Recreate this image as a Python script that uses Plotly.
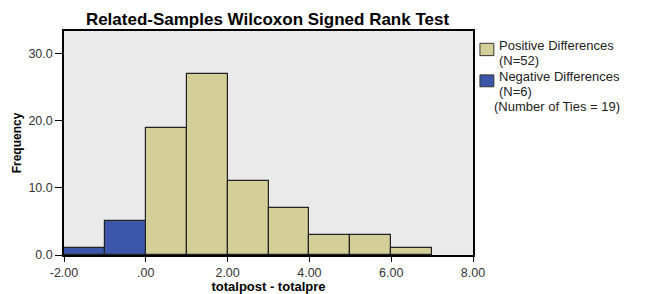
import plotly.graph_objects as go

# Data (bin starts, bin width 1)
neg_bins = [-2, -1]
neg_counts = [1, 5]
pos_bins = [0, 1, 2, 3, 4, 5, 6]
pos_counts = [19, 27, 11, 7, 3, 3, 1]

x_tickvals = [-2, 0, 2, 4, 6, 8]
x_ticktext = ["-2.00", ".00", "2.00", "4.00", "6.00", "8.00"]
y_tickvals = [0, 10, 20, 30]
y_ticktext = ["0.0", "10.0", "20.0", "30.0"]

legend_lines = [
    ("Positive Differences", "(N=52)"),
    ("Negative Differences", "(N=6)"),
]
ties_text = "(Number of Ties = 19)"

FONT = "Liberation Sans, Arial, sans-serif"
TAN = "#D4CF98"
BLUE = "#3C57A9"

fig = go.Figure()
fig.add_trace(go.Bar(
    x=pos_bins, y=pos_counts, width=1, offset=0,
    name="Positive Differences (N=52)",
    marker=dict(color=TAN, line=dict(color="#222222", width=1.2)),
    showlegend=False,
))
fig.add_trace(go.Bar(
    x=neg_bins, y=neg_counts, width=1, offset=0,
    name="Negative Differences (N=6)",
    marker=dict(color=BLUE, line=dict(color="#222222", width=1.2)),
    showlegend=False,
))

# The page body has an 8px margin, so the figure is sized to the visible area
fig.update_layout(
    width=640, height=286,
    margin=dict(l=56, r=175, t=23, b=39, autoexpand=False),
    paper_bgcolor="white",
    plot_bgcolor="#EAEAEA",
    bargap=0,
    barmode="overlay",
    title=dict(
        text="<b>Related-Samples Wilcoxon Signed Rank Test</b>",
        xref="container", yref="container",
        x=0.4055, xanchor="center", y=0.963, yanchor="middle",
        font=dict(family=FONT, size=17, color="black"),
    ),
    font=dict(family=FONT, size=12, color="#333333"),
    showlegend=False,
)

fig.update_xaxes(
    range=[-2, 8],
    tickvals=x_tickvals, ticktext=x_ticktext,
    ticks="outside", ticklen=5, tickcolor="black",
    showline=True, linecolor="black", linewidth=1.5, mirror=True,
    showgrid=False, zeroline=False,
    title=dict(text="<b>totalpost - totalpre</b>", font=dict(family=FONT, size=13, color="black"), standoff=2),
    tickfont=dict(family=FONT, size=12.5, color="#333333"),
)
fig.update_yaxes(
    range=[0, 33.4],
    tickvals=y_tickvals, ticktext=y_ticktext,
    ticks="outside", ticklen=7, tickcolor="black",
    showline=True, linecolor="black", linewidth=1.5, mirror=True,
    showgrid=False, zeroline=False,
    title=dict(text="<b>Frequency</b>", font=dict(family=FONT, size=12, color="black"), standoff=4),
    tickfont=dict(family=FONT, size=12.5, color="#333333"),
)

# Custom legend (swatches + text), in paper coordinates
swatches = [
    (TAN, 0.945, 0.890),
    (BLUE, 0.804, 0.751),
]
line_y = [(0.9375, 0.8705), (0.799, 0.732)]
for (color, y1, y0), (l1, l2), (ya, yb) in zip(swatches, legend_lines, line_y):
    fig.add_shape(type="rect", xref="paper", yref="paper",
                  x0=1.017, x1=1.051, y0=y0, y1=y1,
                  fillcolor=color, line=dict(color="#333333", width=1))
    for txt, yy in ((l1, ya), (l2, yb)):
        fig.add_annotation(
            text=txt, xref="paper", yref="paper",
            x=1.062, y=yy, xanchor="left", yanchor="middle", showarrow=False,
            borderpad=0,
            font=dict(family=FONT, size=13, color="#222222"),
        )

fig.add_annotation(
    text=ties_text, xref="paper", yref="paper",
    x=1.050, y=0.665, xanchor="left", yanchor="middle", showarrow=False,
    borderpad=0,
    font=dict(family=FONT, size=13, color="#222222"),
)

fig.write_html("out.html")
